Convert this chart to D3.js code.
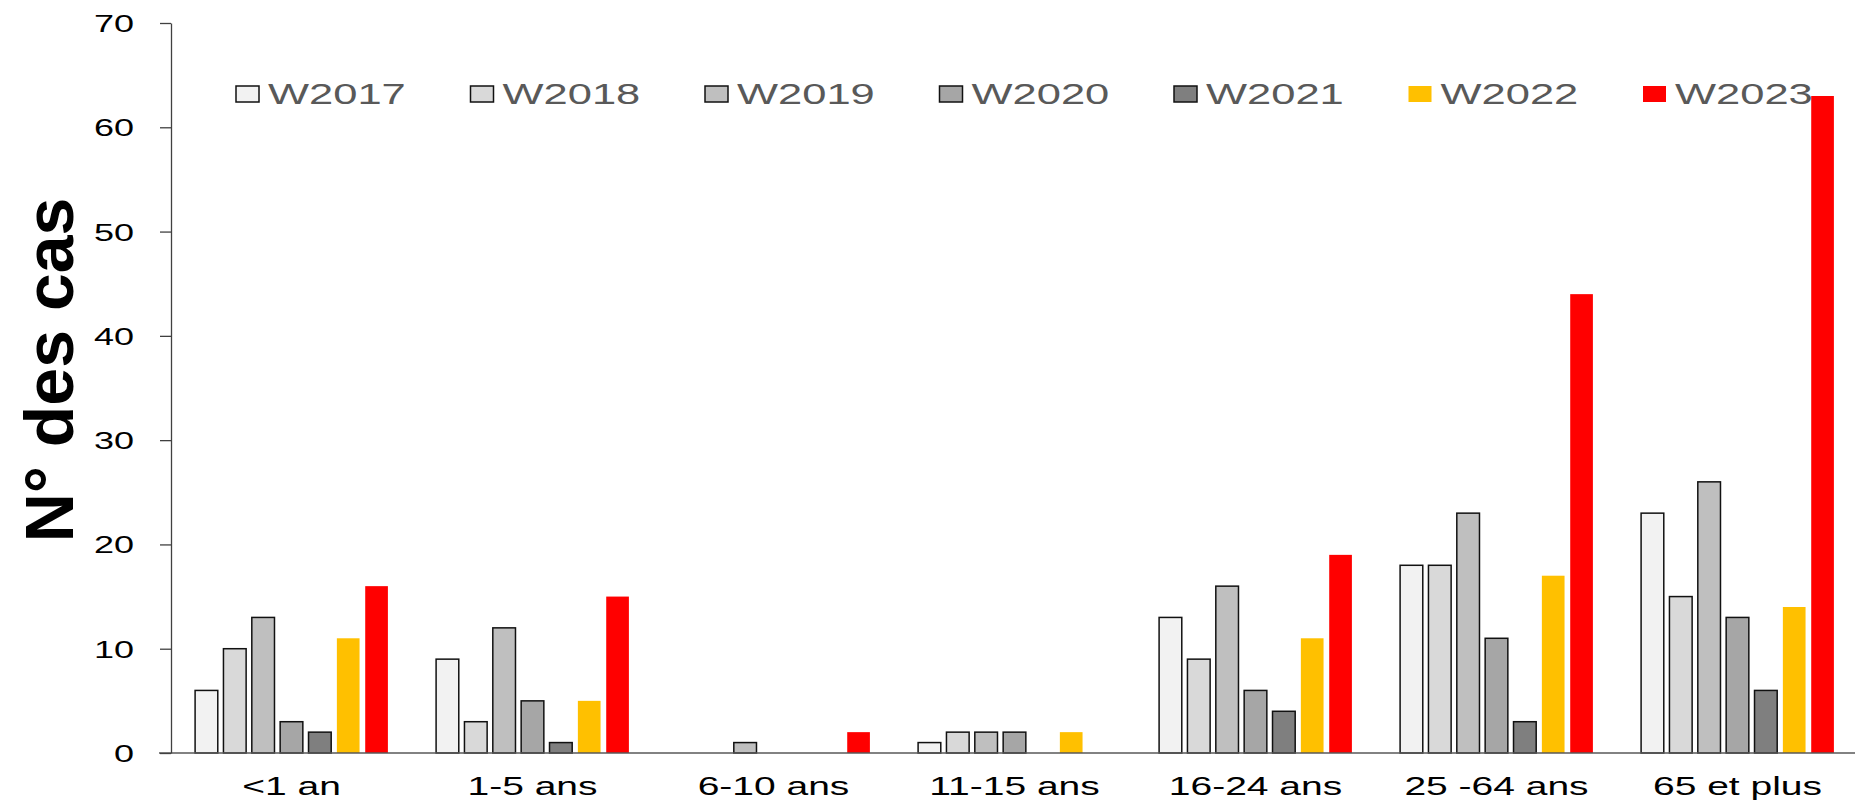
<!DOCTYPE html>
<html>
<head>
<meta charset="utf-8">
<script src="https://cdn.jsdelivr.net/npm/d3@7"></script>
<style>
  html, body { margin: 0; padding: 0; background: #fff; }
  svg { display: block; font-family: "Liberation Sans", Arial, sans-serif; }
</style>
</head>
<body>
<svg id="chart" width="1855" height="800"></svg>
<script>
// Age groups on the x axis
const categories = ["<1 an", "1-5 ans", "6-10 ans", "11-15 ans", "16-24 ans", "25 -64 ans", "65 et plus"];
// One series per season
const series = ["W2017", "W2018", "W2019", "W2020", "W2021", "W2022", "W2023"];
// Number of cases per age group, one array per season
const w2017 = [6, 9, 0, 1, 13, 18, 23];
const w2018 = [10, 3, 0, 2, 9, 18, 15];
const w2019 = [13, 12, 1, 2, 16, 23, 26];
const w2020 = [3, 5, 0, 2, 6, 11, 13];
const w2021 = [2, 1, 0, 0, 4, 3, 6];
const w2022 = [11, 5, 0, 2, 11, 17, 14];
const w2023 = [16, 15, 2, 0, 19, 44, 63];
const yTicks = [0, 10, 20, 30, 40, 50, 60, 70];

const values = { W2017: w2017, W2018: w2018, W2019: w2019, W2020: w2020, W2021: w2021, W2022: w2022, W2023: w2023 };
const fills = { W2017: "#F2F2F2", W2018: "#D9D9D9", W2019: "#BFBFBF", W2020: "#A6A6A6", W2021: "#7F7F7F", W2022: "#FFC000", W2023: "#FF0000" };
const outlined = { W2017: true, W2018: true, W2019: true, W2020: true, W2021: true, W2022: false, W2023: false };

const svg = d3.select("#chart");
const STRETCH = 1.5; // horizontal text widening

const x0 = d3.scaleBand().domain(categories).range([171, 1858]);
const bw = x0.bandwidth();
const x1 = d3.scaleBand().domain(series).range([bw * 0.1, bw * 0.9]).paddingInner(0.2);
const y = d3.scaleLinear().domain([0, 70]).range([753, 23]);

// Bars
const groups = svg.append("g").selectAll("g")
  .data(categories)
  .join("g")
  .attr("transform", d => `translate(${x0(d)},0)`);

groups.selectAll("rect")
  .data((c, i) => series.map(s => ({ s, v: values[s][i] })).filter(d => d.v > 0))
  .join("rect")
  .attr("x", d => x1(d.s))
  .attr("y", d => y(d.v))
  .attr("width", x1.bandwidth())
  .attr("height", d => y(0) - y(d.v))
  .attr("fill", d => fills[d.s])
  .attr("stroke", d => outlined[d.s] ? "#111" : "none")
  .attr("stroke-width", 1.5);

// Baseline
svg.append("line")
  .attr("x1", x0.range()[0] - 12).attr("x2", 1855)
  .attr("y1", y(0)).attr("y2", y(0))
  .attr("stroke", "#595959").attr("stroke-width", 1.5);

// Y axis
const yAxis = svg.append("g")
  .attr("transform", `translate(${x0.range()[0]},0)`)
  .call(d3.axisLeft(y).tickValues(yTicks).tickSize(11).tickSizeOuter(0));
yAxis.select(".domain").attr("stroke", "#404040").attr("stroke-width", 1.3);
yAxis.selectAll(".tick line").attr("stroke", "#404040").attr("stroke-width", 1.3);
yAxis.selectAll(".tick text")
  .attr("x", null).attr("dy", null)
  .attr("transform", `translate(-37,8.5) scale(${STRETCH},1)`)
  .attr("text-anchor", "end")
  .attr("fill", "#000")
  .style("font-size", "24px")
  .style("font-family", "'Liberation Sans', Arial, sans-serif");

// Category labels
svg.append("g").selectAll("text")
  .data(categories)
  .join("text")
  .attr("transform", d => `translate(${x0(d) + bw / 2},795) scale(${STRETCH},1)`)
  .attr("text-anchor", "middle")
  .attr("fill", "#000")
  .style("font-size", "26px")
  .text(d => d);

// Y axis title
svg.append("text")
  .attr("transform", "translate(73,370) rotate(-90)")
  .attr("text-anchor", "middle")
  .attr("font-weight", "bold")
  .attr("fill", "#000")
  .style("font-size", "68px")
  .text("N° des cas");

// Legend
const lx = d3.scalePoint().domain(series).range([236, 1643]);
const leg = svg.append("g").selectAll("g")
  .data(series)
  .join("g")
  .attr("transform", d => `translate(${lx(d)},0)`);
leg.append("rect")
  .attr("x", 0).attr("y", 86).attr("width", 23).attr("height", 16)
  .attr("fill", d => fills[d])
  .attr("stroke", d => outlined[d] ? "#111" : "none")
  .attr("stroke-width", 1.5);
leg.append("text")
  .attr("transform", `translate(32,104) scale(${STRETCH},1)`)
  .attr("fill", "#595959")
  .style("font-size", "29px")
  .text(d => d);
</script>
</body>
</html>
